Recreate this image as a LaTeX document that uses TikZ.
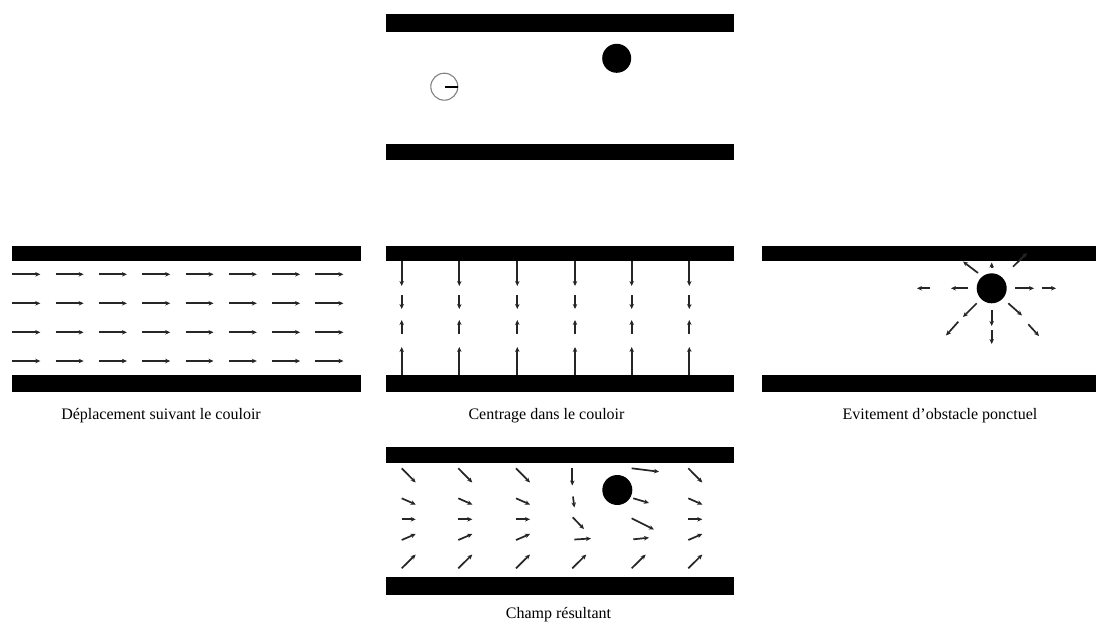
\documentclass[tikz,border=0pt]{standalone}
\usepackage{fontspec}
\setmainfont{Liberation Serif}
\usetikzlibrary{arrows.meta}
\tikzset{
  bar/.style={fill=black,draw=none},
  ball/.style={fill=black,draw=none},
  vec/.style={line width=1.7pt,draw=black!85,-{Stealth[length=5pt,width=4.5pt]}},
  captxt/.style={font=\fontsize{16}{19}\selectfont,anchor=base,inner sep=0pt}
}
\begin{document}
\begin{tikzpicture}[x=1pt,y=-1pt]
\useasboundingbox (0,0) rectangle (1096,624);
% ---------- top panel ----------
\fill[bar] (386,14.3) rectangle (734,31.7);
\fill[bar] (386,144.3) rectangle (734,160.3);
\fill[ball] (616.7,58.3) circle (14.5);
\draw[black!50,line width=1.1pt] (444.3,86.7) circle (13.5);
\draw[line width=1.8pt] (444.8,86.7) -- (457.8,86.7);
% ---------- left panel ----------
\fill[bar] (12,246) rectangle (361,261);
\fill[bar] (12,375) rectangle (361,391.7);
\foreach \i in {0,...,7}{
  \foreach \y in {274.3,303.3,332.3,361}{
    \draw[vec] ({12.3+43.3*\i},\y) -- ({40.3+43.3*\i},\y);
  }
}
% ---------- centre panel ----------
\fill[bar] (386,246) rectangle (734,261);
\fill[bar] (386,375) rectangle (734,391.7);
\foreach \x in {401.7,459.3,517.3,575,631.7,689.3}{
  \draw[vec] (\x,261) -- (\x,286);
  \draw[vec] (\x,295) -- (\x,309);
  \draw[vec] (\x,334) -- (\x,320);
  \draw[vec] (\x,375) -- (\x,347);
}
% ---------- right panel ----------
\fill[bar] (761.7,246) rectangle (1096,261);
\fill[bar] (761.7,375) rectangle (1096,391.7);
\fill[ball] (991.7,288.3) circle (15);
\draw[vec] (930,288.3) -- (917,288.3);
\draw[vec] (968.3,288.3) -- (951,288.3);
\draw[vec] (1015,288.3) -- (1034,288.3);
\draw[vec] (1041.7,288.3) -- (1056,288.3);
\draw[vec] (991.7,310) -- (991.7,326);
\draw[vec] (991.7,330) -- (991.7,344);
\draw[vec] (976.7,303.3) -- (963,317);
\draw[vec] (958.3,321.7) -- (946,335.5);
\draw[vec] (1008.3,303.3) -- (1022,315.5);
\draw[vec] (1028.3,324.3) -- (1039,336);
\draw[vec] (991.7,268) -- (991.7,262.5);
\draw[vec] (978,273) -- (963,261.5);
\draw[vec] (1013,266.7) -- (1027,253);
% ---------- bottom panel ----------
\fill[bar] (386,447.3) rectangle (734,462.7);
\fill[bar] (386,576.7) rectangle (734,595);
\fill[ball] (617.3,490) circle (15);
\foreach \x in {401.7,458.3,516,688.3}{
  \draw[vec] (\x,468.3) -- ({\x+14},482.5);
  \draw[vec] (\x,498.3) -- ({\x+14},504.5);
  \draw[vec] (\x,519.3) -- ({\x+14},519.3);
  \draw[vec] (\x,540) -- ({\x+14},534);
  \draw[vec] (\x,568.3) -- ({\x+14},554.5);
}
% column 4
\draw[vec] (572.3,468.3) -- (572.3,485.5);
\draw[vec] (573,496.5) -- (574.3,507.5);
\draw[vec] (572.7,517.3) -- (584,529);
\draw[vec] (574.3,539.5) -- (591,538.5);
\draw[vec] (572.3,568.3) -- (586.3,554.5);
% column 5
\draw[vec] (631.7,468.3) -- (659,471.7);
\draw[vec] (633.3,498.3) -- (649,503);
\draw[vec] (631.7,518.3) -- (654,529.5);
\draw[vec] (633.3,539.3) -- (649,537.7);
\draw[vec] (631.7,568.3) -- (645.7,554.5);
% ---------- captions ----------
\node[captxt] (c1) at (161,419) {Déplacement suivant le couloir};
\node[captxt] (c2) at (546.5,419) {Centrage dans le couloir};
\node[captxt] (c3) at (940,419) {Evitement d’obstacle ponctuel};
\node[captxt] (c4) at (558.5,618) {Champ résultant};
\end{tikzpicture}
\end{document}
